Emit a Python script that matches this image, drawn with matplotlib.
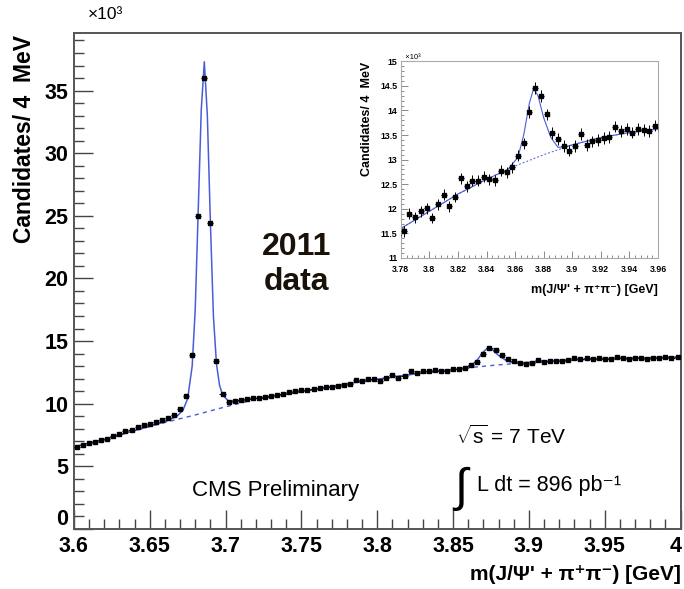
import numpy as np
import matplotlib.pyplot as plt
from matplotlib.ticker import MultipleLocator, FuncFormatter

plt.rcParams['font.family'] = ['Liberation Sans', 'DejaVu Sans']
plt.rcParams['mathtext.fontset'] = 'custom'
plt.rcParams['mathtext.rm'] = 'Liberation Sans'

# 4 MeV bins between 3.6 and 4.0 GeV (bin centres)
mass = np.round(np.arange(3.602, 4.0, 0.004), 3)

# candidates per bin, in units of 10^3
counts = np.array([
    6.55, 6.68, 6.86, 6.93, 7.12, 7.22, 7.41, 7.58, 7.83, 7.92,
    8.12, 8.28, 8.36, 8.57, 8.66, 8.84, 9.10,
    9.55, 10.6, 13.9, 25.0, 36.0, 24.4, 13.4, 10.8,
    10.15, 10.22, 10.31, 10.36, 10.42, 10.47, 10.52, 10.61, 10.66, 10.74,
    10.90, 10.98, 11.06, 11.10, 11.17, 11.22, 11.31, 11.35, 11.42, 11.47,
    11.54, 11.90, 11.83, 11.95, 12.01, 11.81, 12.09, 12.29, 12.05, 12.24,
    12.62, 12.46, 12.57, 12.57, 12.65, 12.60, 12.58, 12.77, 12.74, 12.84,
    13.08, 13.33, 13.97, 14.45, 14.29, 13.92, 13.54, 13.42, 13.28, 13.18,
    13.28, 13.52, 13.30, 13.37, 13.40, 13.44, 13.46, 13.67, 13.58, 13.62,
    13.55, 13.62, 13.60, 13.58, 13.69,
    13.62, 13.58, 13.66, 13.63, 13.60, 13.68, 13.65, 13.70, 13.62, 13.72,
])
# poisson errors
errors = np.sqrt(counts * 1000) / 1000

# fitted signal + background curve
fit_m = [3.600, 3.620, 3.640, 3.660, 3.668, 3.672, 3.675, 3.678, 3.680, 3.682,
         3.684, 3.686, 3.688, 3.690, 3.692, 3.694, 3.696, 3.698, 3.702, 3.710,
         3.730, 3.750, 3.780, 3.800, 3.820, 3.840, 3.855, 3.862, 3.866, 3.870,
         3.873, 3.876, 3.880, 3.885, 3.890, 3.895, 3.900, 3.920, 3.940, 3.960,
         4.000]
fit_y = [6.55, 7.15, 7.85, 8.55, 9.0, 9.5, 10.4, 13.0, 17.5, 25.5,
         33.5, 37.3, 33.0, 24.5, 17.0, 13.2, 11.5, 10.7, 10.2, 10.25,
         10.6, 10.95, 11.6, 11.95, 12.3, 12.6, 12.8, 13.05, 13.5, 14.15,
         14.45, 14.3, 13.85, 13.45, 13.25, 13.26, 13.3, 13.45, 13.55, 13.62,
         13.72]

# background only
bg_m = [3.600, 3.620, 3.640, 3.660, 3.680, 3.700, 3.720, 3.750, 3.780, 3.800,
        3.820, 3.840, 3.860, 3.880, 3.900, 3.920, 3.940, 3.960, 4.000]
bg_y = [6.55, 7.15, 7.85, 8.5, 9.1, 9.75, 10.35, 10.95, 11.6, 11.95,
        12.3, 12.6, 12.87, 13.1, 13.3, 13.45, 13.55, 13.62, 13.72]

x_title = "m(J/\u03a8' + \u03c0\u207a\u03c0\u207b) [GeV]"
y_title = 'Candidates/ 4  MeV'
fit_color = '#4a5cd8'
gfmt = FuncFormatter(lambda v, p: '%g' % round(v, 3))

fig = plt.figure(figsize=(6.84, 5.89), dpi=100)
ax = fig.add_axes([0.108, 0.102, 0.887, 0.842])

ax.errorbar(mass, counts, yerr=errors, xerr=0.002, fmt='s', ms=3.2,
            color='black', elinewidth=0.8, capsize=0, zorder=3)
ax.plot(fit_m, fit_y, color=fit_color, lw=1.1, zorder=2)
ax.plot(bg_m, bg_y, color=fit_color, lw=1.0, ls=(0, (3, 3)), zorder=2)

ax.set_xlim(3.6, 4.0)
ax.set_ylim(0, 39.6)
ax.xaxis.set_major_locator(MultipleLocator(0.05))
ax.xaxis.set_minor_locator(MultipleLocator(0.01))
ax.yaxis.set_major_locator(MultipleLocator(5))
ax.yaxis.set_minor_locator(MultipleLocator(1))
# ROOT style: "0" sits above the x axis and "4" hugs the frame, drawn below
ax.xaxis.set_major_formatter(FuncFormatter(
    lambda v, p: '' if abs(v - 4.0) < 1e-6 else '%g' % round(v, 3)))
ax.yaxis.set_major_formatter(FuncFormatter(
    lambda v, p: '' if abs(v) < 1e-6 else '%g' % v))
ax.tick_params(which='both', direction='in', top=False, right=False,
               labelsize=15.5, width=1.0, color='#444444')
ax.tick_params(which='major', length=14)
ax.tick_params(which='minor', length=7)
ax.tick_params(axis='x', pad=5)
ax.tick_params(axis='y', pad=4)
for lab in ax.get_xticklabels() + ax.get_yticklabels():
    lab.set_fontweight('bold')
ax.annotate('0', xy=(0, 0), xycoords=('axes fraction', 'data'),
            xytext=(-4, -1), textcoords='offset points', ha='right',
            va='bottom', fontsize=15.5, fontweight='bold')
ax.annotate('4', xy=(4.0, 0), xycoords=('data', 'axes fraction'),
            xytext=(1, -5), textcoords='offset points', ha='right',
            va='top', fontsize=15.5, fontweight='bold')
for s in ax.spines.values():
    s.set_linewidth(1.4)
    s.set_color('#555555')

ax.set_xlabel(x_title, fontsize=15, fontweight='bold', loc='right', labelpad=6)
fig.text(0.036, 0.94, y_title, rotation=90, ha='center', va='top',
         fontsize=16.5, fontweight='bold')
fig.text(0.128, 0.962, '\u00d710\u00b3', fontsize=12.5, ha='left', va='bottom')

ax.text(3.747, 21.1, '2011\ndata', fontsize=23, fontweight='bold',
        ha='center', va='center', linespacing=1.2, color='#1a1208')
ax.text(3.733, 3.1, 'CMS Preliminary', fontsize=16, ha='center', va='center')
ax.text(3.852, 7.4, r'$\sqrt{\mathrm{s}}$ = 7 TeV', fontsize=15,
        ha='left', va='center')
ax.text(3.8505, 3.2, '\u222b', fontsize=34, ha='left', va='center',
        family=['Liberation Sans', 'DejaVu Sans'])
ax.text(3.866, 3.5, 'L dt = 896 pb\u207b\u00b9', fontsize=15.5,
        ha='left', va='center')

# inset zoom on the X(3872) region
ax_in = fig.add_axes([0.586, 0.562, 0.376, 0.334])
ax_in.errorbar(mass, counts, yerr=errors, xerr=0.002, fmt='s', ms=2.2,
               color='black', elinewidth=0.7, capsize=0, zorder=3)
ax_in.plot(fit_m, fit_y, color=fit_color, lw=0.8, zorder=2)
ax_in.plot(bg_m, bg_y, color=fit_color, lw=0.7, ls=(0, (2, 2)), zorder=2)
ax_in.set_xlim(3.78, 3.96)
ax_in.set_ylim(11, 15)
ax_in.xaxis.set_major_locator(MultipleLocator(0.02))
ax_in.xaxis.set_minor_locator(MultipleLocator(0.004))
ax_in.yaxis.set_major_locator(MultipleLocator(0.5))
ax_in.yaxis.set_minor_locator(MultipleLocator(0.1))
ax_in.xaxis.set_major_formatter(gfmt)
ax_in.yaxis.set_major_formatter(gfmt)
ax_in.tick_params(which='both', direction='in', top=False, right=False,
                  labelsize=6.3, width=0.6, color='#777777', pad=2.5)
ax_in.tick_params(which='major', length=5)
ax_in.tick_params(which='minor', length=2.5)
ax_in.tick_params(axis='x', pad=5)
for lab in ax_in.get_xticklabels() + ax_in.get_yticklabels():
    lab.set_fontweight('bold')
for s in ax_in.spines.values():
    s.set_linewidth(0.8)
    s.set_color('#aaaaaa')
ax_in.set_xlabel(x_title, fontsize=9, fontweight='bold', loc='right', labelpad=7)
ax_in.set_ylabel(y_title, fontsize=9, fontweight='bold', loc='top', labelpad=5)
ax_in.text(0.0, 1.0, '  \u00d710\u00b3', transform=ax_in.transAxes,
           fontsize=5.5, ha='left', va='bottom')

fig.savefig('out.png', dpi=100)
